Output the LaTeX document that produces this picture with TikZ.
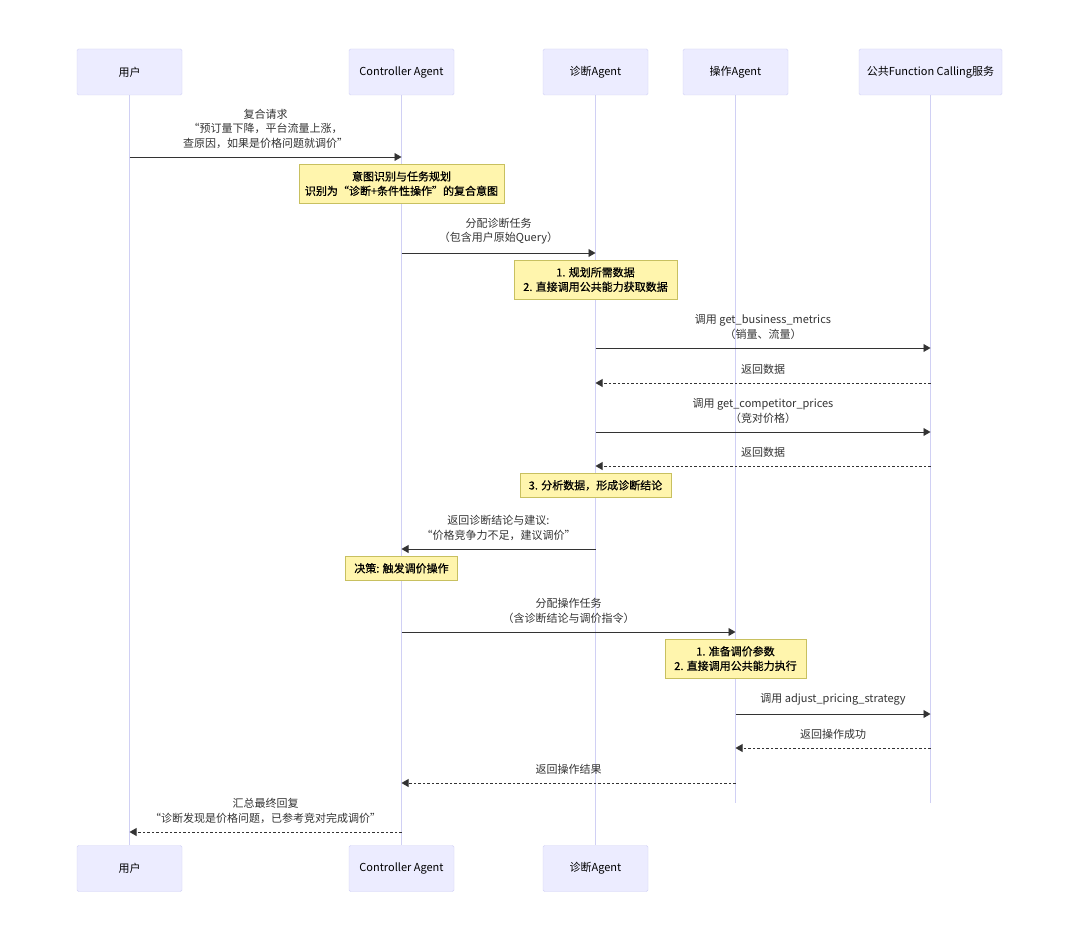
\documentclass[tikz,border=0pt]{standalone}
\usepackage{fontspec}
\setmainfont{Noto Sans CJK SC}
\newfontfamily\notefont[FakeBold=0.7]{Noto Sans CJK SC}
\usetikzlibrary{arrows,positioning}

\definecolor{actorfill}{HTML}{ECECFF}
\definecolor{actorline}{HTML}{D2D2F6}
\definecolor{lifeline}{HTML}{D0D0F4}
\definecolor{notefill}{HTML}{FFF5AD}
\definecolor{noteline}{HTML}{C8C060}
\definecolor{ink}{HTML}{333333}

\begin{document}
\begin{tikzpicture}[
  x=1pt,y=-1pt,
  font=\fontsize{11}{14.5}\selectfont,
  actor/.style={draw=actorline,fill=actorfill,rounded corners=1.5pt,minimum width=105pt,minimum height=46pt,text=black},
  note/.style={draw=noteline,fill=notefill,inner xsep=9pt,inner ysep=7pt,align=center,text=black,font=\fontsize{11}{14.5}\notefont},
  life/.style={draw=lifeline,line width=1.2pt},
  msg/.style={draw=ink,line width=.9pt,-triangle 60},
  reply/.style={msg,dash pattern=on 2.5pt off 2pt},
  lbl/.style={above=8pt,inner sep=0pt,align=center,text=ink}
]
  \fill[white] (0,0) rectangle (1080,942);
  \useasboundingbox (0,0) rectangle (1080,942);

  % participants
  \node[actor] (user) at (129.5,72) {用户};
  \node[actor] (ctrl) at (401.5,72) {Controller Agent};
  \node[actor] (diag) at (595.5,72) {诊断Agent};
  \node[actor] (oper) at (735.5,72) {操作Agent};
  \node[actor,minimum width=143pt] (fc) at (930.5,72) {公共Function Calling服务};

  \node[actor] (userB) at (129.5,868.5) {用户};
  \node[actor] (ctrlB) at (401.5,868.5) {Controller Agent};
  \node[actor] (diagB) at (595.5,868.5) {诊断Agent};
  \coordinate (operEnd) at (735.5,803);
  \coordinate (fcEnd) at (930.5,803);

  % lifelines
  \draw[life] (user) -- (userB);
  \draw[life] (ctrl) -- (ctrlB);
  \draw[life] (diag) -- (diagB);
  \draw[life] (oper) -- (operEnd);
  \draw[life] (fc) -- (fcEnd);

  % message rows
  \coordinate (r1) at (0,157);
  \coordinate (r2) at (0,253);
  \coordinate (r3) at (0,348);
  \coordinate (r4) at (0,383);
  \coordinate (r5) at (0,432);
  \coordinate (r6) at (0,466);
  \coordinate (r7) at (0,549);
  \coordinate (r8) at (0,632);
  \coordinate (r9) at (0,714);
  \coordinate (r10) at (0,748);
  \coordinate (r11) at (0,783);
  \coordinate (r12) at (0,832);

  \draw[msg] (user |- r1) -- node[lbl]{复合请求\\“预订量下降，平台流量上涨，\\查原因，如果是价格问题就调价”} (ctrl |- r1);
  \node[note,anchor=north,inner xsep=6pt] (intent) at (ctrl |- 0,164) {意图识别与任务规划\\识别为“诊断+条件性操作”的复合意图};

  \draw[msg] (ctrl |- r2) -- node[lbl]{分配诊断任务\\（包含用户原始Query）} (diag |- r2);
  \node[note,anchor=north] (planData) at (diag |- 0,260) {1. 规划所需数据\\2. 直接调用公共能力获取数据};

  \draw[msg] (diag |- r3) -- node[lbl]{调用 get\_business\_metrics\\（销量、流量）} (fc |- r3);
  \draw[reply] (fc |- r4) -- node[lbl]{返回数据} (diag |- r4);
  \draw[msg] (diag |- r5) -- node[lbl]{调用 get\_competitor\_prices\\（竞对价格）} (fc |- r5);
  \draw[reply] (fc |- r6) -- node[lbl]{返回数据} (diag |- r6);
  \node[note,anchor=north] (analyse) at (diag |- 0,473) {3. 分析数据，形成诊断结论};

  \draw[msg] (diag |- r7) -- node[lbl]{返回诊断结论与建议:\\“价格竞争力不足，建议调价”} (ctrl |- r7);
  \node[note,anchor=north] (decide) at (ctrl |- 0,556) {决策: 触发调价操作};

  \draw[msg] (ctrl |- r8) -- node[lbl]{分配操作任务\\（含诊断结论与调价指令）} (oper |- r8);
  \node[note,anchor=north] (prepare) at (oper |- 0,639) {1. 准备调价参数\\2. 直接调用公共能力执行};

  \draw[msg] (oper |- r9) -- node[lbl]{调用 adjust\_pricing\_strategy} (fc |- r9);
  \draw[reply] (fc |- r10) -- node[lbl]{返回操作成功} (oper |- r10);
  \draw[reply] (oper |- r11) -- node[lbl]{返回操作结果} (ctrl |- r11);
  \draw[reply] (ctrl |- r12) -- node[lbl]{汇总最终回复\\“诊断发现是价格问题，已参考竞对完成调价”} (user |- r12);
\end{tikzpicture}
\end{document}
